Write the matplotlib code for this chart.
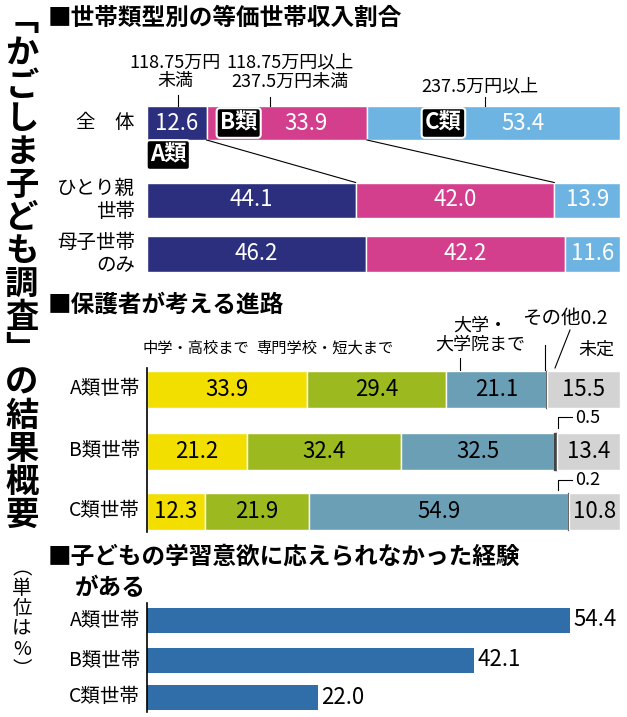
import matplotlib
matplotlib.use("Agg")
import matplotlib.pyplot as plt
import numpy as np

plt.rcParams["font.family"] = "Noto Sans CJK JP"

W, H = 627, 717

# panel 1: income share by household type
inc_rows = ["全　体", "ひとり親\n世帯", "母子世帯\nのみ"]
inc_a = [12.6, 44.1, 46.2]
inc_b = [33.9, 42.0, 42.2]
inc_c = [53.4, 13.9, 11.6]

# panel 2: expected path
path_rows = ["A類世帯", "B類世帯", "C類世帯"]
path_jhs = [33.9, 21.2, 12.3]
path_voc = [29.4, 32.4, 21.9]
path_uni = [21.1, 32.5, 54.9]
path_other = [0.2, 0.5, 0.2]
path_undec = [15.5, 13.4, 10.8]

# panel 3: unmet learning motivation
exp_rows = ["A類世帯", "B類世帯", "C類世帯"]
exp_vals = [54.4, 42.1, 22.0]

fig = plt.figure(figsize=(W / 100, H / 100), dpi=100)
base = fig.add_axes([0, 0, 1, 1])
base.set_xlim(0, W)
base.set_ylim(H, 0)
base.axis("off")
base.set_zorder(10)


def panel(x0, x1, y0, y1, xmax):
    ax = fig.add_axes([x0 / W, 1 - y1 / H, (x1 - x0) / W, (y1 - y0) / H])
    ax.set_xlim(0, xmax)
    ax.set_ylim(y1, y0)
    ax.axis("off")
    return ax


# vertical title
title = "﹁かごしま子ども調査﹂の結果概要"
base.text(22, 4, "\n".join(title), fontsize=24, fontweight="bold", va="top",
          ha="center", linespacing=1.0)
base.text(22, 558, "\n".join("︵単位は%︶"), fontsize=14, va="top", ha="center",
          linespacing=0.95)

base.text(48, 18, "■世帯類型別の等価世帯収入割合", fontsize=17, fontweight="bold", va="center")
base.text(48, 305, "■保護者が考える進路", fontsize=17, fontweight="bold", va="center")
base.text(48, 557, "■子どもの学習意欲に応えられなかった経験", fontsize=17, fontweight="bold", va="center")
base.text(75, 588, "がある", fontsize=17, fontweight="bold", va="center")

# ---- panel 1
ax1 = panel(147, 620, 95, 280, 100)
ys1 = [123, 200, 254]
hs1 = [34, 35, 36]
cols1 = ["#2b2f7e", "#d43f8d", "#6db4e3"]
for i, y in enumerate(ys1):
    left = 0
    for k, (v, c) in enumerate(zip([inc_a[i], inc_b[i], inc_c[i]], cols1)):
        ax1.barh(y, v, left=left, height=hs1[i], color=c, edgecolor="white", linewidth=1)
        xt = left + v / 2
        if i == 0 and k > 0:
            xt = left + v * 0.62
        ax1.text(xt, y, f"{v:.1f}", color="white", fontsize=16, ha="center", va="center")
        left += v
    base.text(135, y, inc_rows[i], fontsize=14, ha="right", va="center", linespacing=1.1)
# connecting lines
for top, bot in [(inc_a[0], inc_a[1]), (inc_a[0] + inc_b[0], inc_a[1] + inc_b[1])]:
    ax1.plot([top, bot], [ys1[0] + hs1[0] / 2, ys1[1] - hs1[1] / 2], color="black", lw=0.8)
box = dict(boxstyle="round,pad=0.15", fc="black", ec="white", lw=1.5)
base.text(150, 155, "A類", color="white", fontsize=16, fontweight="bold", va="center", bbox=box)
base.text(220, 123, "B類", color="white", fontsize=16, fontweight="bold", va="center", bbox=box)
base.text(425, 123, "C類", color="white", fontsize=16, fontweight="bold", va="center", bbox=box)
base.text(175, 72, "118.75万円\n未満", fontsize=13, ha="center", va="center", linespacing=1.05)
base.text(290, 72, "118.75万円以上\n237.5万円未満", fontsize=13, ha="center", va="center", linespacing=1.05)
base.text(480, 86, "237.5万円以上", fontsize=13, ha="center", va="center")
base.plot([178, 178], [95, 106], color="black", lw=0.8)
base.plot([270, 270], [97, 106], color="black", lw=0.8)
base.plot([485, 485], [97, 106], color="black", lw=0.8)

# ---- panel 2
ax2 = panel(147, 620, 360, 540, 100)
ys2 = [389, 451, 511]
cols2 = ["#f2df00", "#9cba1f", "#6b9fb6", "#444444", "#d3d3d3"]
series2 = [path_jhs, path_voc, path_uni, path_other, path_undec]
for i, y in enumerate(ys2):
    left = 0
    for k, (s, c) in enumerate(zip(series2, cols2)):
        v = s[i]
        ax2.barh(y, v, left=left, height=37, color=c, edgecolor="white" if k != 3 else c, linewidth=1)
        if k != 3:
            ax2.text(left + v / 2, y, f"{v:.1f}", color="black", fontsize=16, ha="center", va="center")
        left += v
    base.text(140, y, path_rows[i], fontsize=14, ha="right", va="center")
base.plot([147, 147], [368, 532], color="black", lw=1.2)
base.text(143, 348, "中学・高校まで", fontsize=11, va="center")
base.text(256, 348, "専門学校・短大まで", fontsize=11, va="center")
base.text(480, 335, "大学・\n大学院まで", fontsize=13, ha="center", va="center", linespacing=1.1)
base.text(522, 318, "その他0.2", fontsize=14, va="center")
base.text(578, 350, "未定", fontsize=13, va="center")
base.plot([545, 545], [345, 370], color="black", lw=0.8)
base.plot([460, 460], [358, 370], color="black", lw=0.8)
base.text(575, 418, "0.5", fontsize=13, va="center")
base.text(575, 480, "0.2", fontsize=13, va="center")
base.plot([558, 558, 572], [428, 417, 417], color="black", lw=0.8)
base.plot([558, 558, 572], [490, 480, 480], color="black", lw=0.8)
base.plot([555, 570], [368, 330], color="black", lw=0.8)

# ---- panel 3
ax3 = panel(147, 627, 600, 715, 480 / (423 / 54.4))
ys3 = [620, 660, 697]
for y, v, lab in zip(ys3, exp_vals, exp_rows):
    ax3.barh(y, v, height=25, color="#2f6ea8")
    ax3.text(v + 0.4, y, f"{v:.1f}", fontsize=16, va="center")
    base.text(140, y, lab, fontsize=14, ha="right", va="center")
base.plot([147, 147], [603, 712], color="black", lw=1.2)

fig.savefig("out.png", dpi=100)
